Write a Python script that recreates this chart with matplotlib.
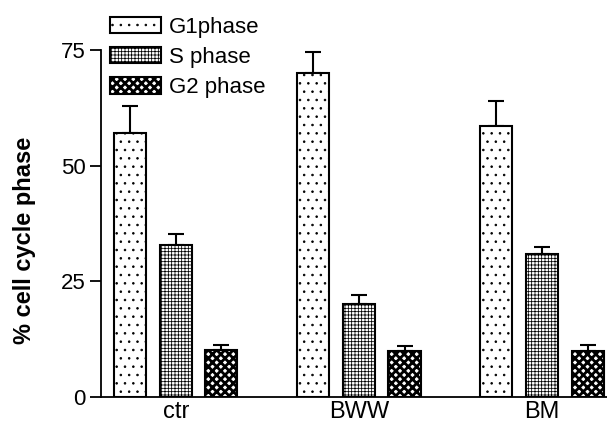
import numpy as np
import matplotlib
matplotlib.use("Agg")
import matplotlib.pyplot as plt

plt.rcParams['font.family'] = ['Liberation Sans', 'DejaVu Sans']
plt.rcParams['hatch.linewidth'] = 0.6

groups = ['ctr', 'BWW', 'BM']
phases = ['G1phase', 'S phase', 'G2 phase']
g1 = [57, 70, 58.6]
g1_err = [5.8, 4.5, 5.3]
s_ph = [32.8, 20, 31]
s_err = [2.4, 2, 1.4]
g2 = [10.1, 10, 10]
g2_err = [1.1, 1.1, 1.2]
yticks = [0, 25, 50, 75]

values = [g1, s_ph, g2]
errors = [g1_err, s_err, g2_err]
hatches = ['..', '+++++', 'xxxx']
hatch_lw = [0.6, 0.55, 2.0]

fig = plt.figure(figsize=(6.07, 4.25), dpi=100)
ax = fig.add_axes([0.166, 0.066, 0.834, 0.8165])

x = np.arange(len(groups))
offs = [-0.249, 0, 0.249]
width = 0.175
handles = []
for k in range(3):
    b = ax.bar(x + offs[k], values[k], width, color='white', edgecolor='black',
               linewidth=1.5, hatch=hatches[k], label=phases[k], zorder=2)
    for p in b.patches:
        if hasattr(p, 'set_hatch_linewidth'):
            p.set_hatch_linewidth(hatch_lw[k])
    ax.errorbar(x + offs[k], values[k], yerr=[np.zeros(3), errors[k]], fmt='none',
                ecolor='black', elinewidth=1.5, capsize=6, capthick=1.5, zorder=1)
    handles.append(b)

ax.set_xlim(-0.41, 2.355)
ax.set_ylim(0, 75)
ax.set_yticks(yticks)
ax.set_xticks(x)
ax.set_xticklabels(groups)
ax.tick_params(axis='x', length=0, labelsize=17, pad=3)
ax.tick_params(axis='y', length=8, width=1.3, labelsize=16, direction='out', pad=3)
for sp in ['top', 'right']:
    ax.spines[sp].set_visible(False)
ax.spines['left'].set_linewidth(1.3)
ax.spines['bottom'].set_linewidth(1.3)
ax.set_ylabel('% cell cycle phase', fontsize=17, fontweight='bold')
ax.yaxis.set_label_coords(-0.127, 0.45)

leg = fig.legend(handles=handles, loc='upper left', bbox_to_anchor=(0.154, 1.0),
                 frameon=False, fontsize=16, handlelength=2.3, handleheight=0.75,
                 labelspacing=0.42, handletextpad=0.36, borderaxespad=0.35)
for h, lw in zip(leg.legend_handles, hatch_lw):
    if hasattr(h, 'set_hatch_linewidth'):
        h.set_hatch_linewidth(lw)

fig.savefig('out.png', dpi=100)
